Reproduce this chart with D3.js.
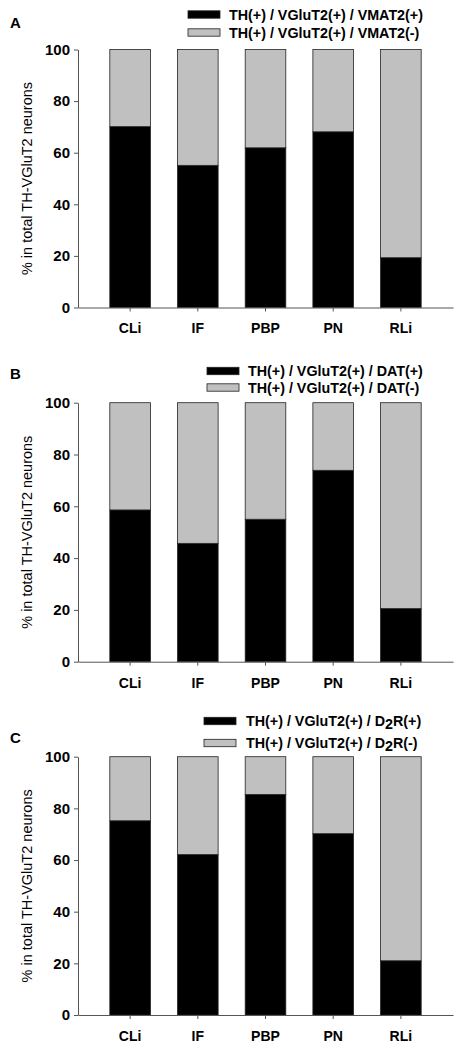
<!DOCTYPE html>
<html><head><meta charset="utf-8">
<script src="https://cdn.jsdelivr.net/npm/d3@7"></script>
<style>
body{margin:0;background:#fff;}
svg text{font-family:Arial,"Liberation Sans",sans-serif;}
</style></head><body>
<svg id="c" width="461" height="1048"></svg>
<script>
const categories = ["CLi","IF","PBP","PN","RLi"];
const vmat2Pos = [70.1, 55.1, 61.9, 68.1, 19.3];
const datPos = [58.6, 45.7, 55.0, 73.9, 20.5];
const d2rPos = [75.2, 62.1, 85.4, 70.2, 21.0];
const yTicks = [0,20,40,60,80,100];
const yLabel = "% in total TH-VGluT2 neurons";
const legendA = [["TH(+) / VGluT2(+) / VMAT2(+)"],["TH(+) / VGluT2(+) / VMAT2(-)"]];
const legendB = [["TH(+) / VGluT2(+) / DAT(+)"],["TH(+) / VGluT2(+) / DAT(-)"]];
const legendC = [["TH(+) / VGluT2(+) / D","2","R(+)"],["TH(+) / VGluT2(+) / D","2","R(-)"]];

const colors = ["#000000","#c0c0c0"];
const svg = d3.select("#c");

const panels = [
  {letter:"A", values:vmat2Pos, legend:legendA, top:49.5, bottom:307.5, letterY:22, legX:188, legY:[14.5,32.5], textX:229},
  {letter:"B", values:datPos, legend:legendB, top:402.7, bottom:661.7, letterY:373, legX:207, legY:[371,387.5], textX:248},
  {letter:"C", values:d2rPos, legend:legendC, top:756.7, bottom:1015, letterY:737, legX:204, legY:[721,743], textX:246}
];

const x = d3.scaleBand().domain(categories).range([78,453]).paddingInner(0.4).paddingOuter(0.47);
const FF = "Arial, 'Liberation Sans', sans-serif";

panels.forEach(p => {
  const g = svg.append("g");
  const y = d3.scaleLinear().domain([0,100]).range([p.bottom,p.top]);
  const stacked = categories.map((c,i)=>({cat:c, pos:p.values[i], neg:100-p.values[i]}));
  const series = d3.stack().keys(["pos","neg"])(stacked);
  series.forEach((s,si)=>{
    g.selectAll(null).data(s).enter().append("rect")
      .attr("x",(d)=>x(d.data.cat))
      .attr("width",x.bandwidth())
      .attr("y",d=>y(d[1]))
      .attr("height",d=>y(d[0])-y(d[1]))
      .attr("fill",colors[si])
      .attr("stroke","#222").attr("stroke-width",0.8);
  });
  const ya = g.append("g").attr("transform","translate(78,0)")
    .call(d3.axisLeft(y).tickValues(yTicks).tickSize(4).tickSizeOuter(0).tickPadding(4));
  ya.attr("font-size",null).attr("font-family",null);
  ya.select(".domain").attr("stroke","#555");
  ya.selectAll(".tick line").attr("stroke","#555");
  ya.selectAll("text").style("font-size","15px").style("font-weight","bold").attr("fill","#000").style("font-family",FF);
  const xa = g.append("g").attr("transform",`translate(0,${p.bottom})`)
    .call(d3.axisBottom(x).tickSize(4).tickSizeOuter(0).tickPadding(12));
  xa.attr("font-size",null).attr("font-family",null);
  xa.select(".domain").attr("stroke","#555");
  xa.selectAll(".tick line").attr("stroke","#555");
  xa.selectAll("text").style("font-size","14px").style("font-weight","bold").attr("fill","#000").style("font-family",FF);
  g.append("text").attr("transform",`translate(32,${(p.top+p.bottom)/2}) rotate(-90)`)
    .attr("text-anchor","middle").style("font-size","14.5px").attr("fill","#000").text(yLabel);
  g.append("text").attr("x",10).attr("y",p.letterY+5.5).style("font-size","15px").attr("font-weight","bold").text(p.letter);
  p.legend.forEach((parts,i)=>{
    const ly = p.legY[i];
    g.append("rect").attr("x",p.legX).attr("y",ly-3.7).attr("width",32).attr("height",7.4)
      .attr("fill",colors[i]).attr("stroke","#222").attr("stroke-width",0.8);
    const t = g.append("text").attr("x",p.textX).attr("y",ly+5).style("font-size","14.3px").attr("font-weight","bold");
    t.append("tspan").text(parts[0]);
    if(parts.length>1){
      t.append("tspan").attr("dy",3).text(parts[1]);
      t.append("tspan").attr("dy",-3).text(parts[2]);
    }
  });
});
</script>
</body></html>
